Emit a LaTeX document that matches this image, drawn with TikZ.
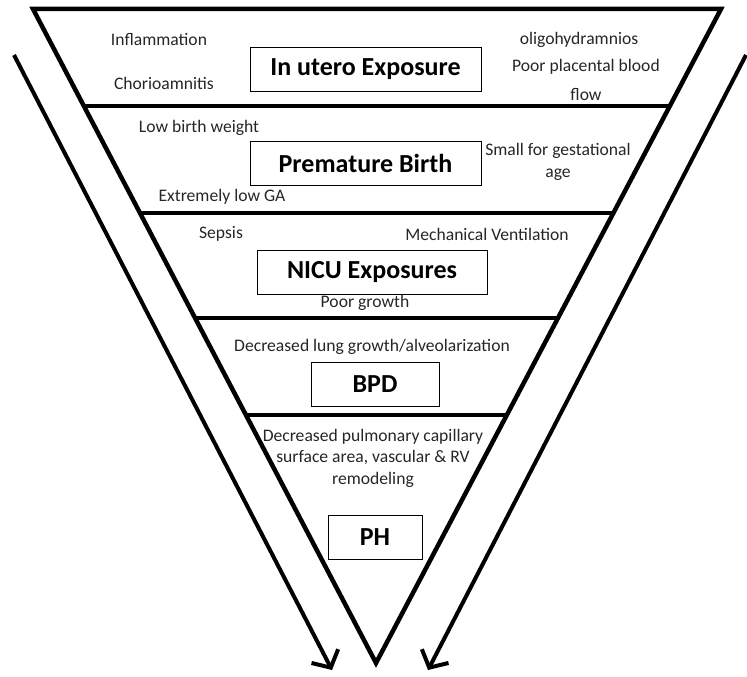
\documentclass[tikz,border=0pt]{standalone}
\usepackage{fontspec}
\setmainfont{Carlito}
\usetikzlibrary{arrows.meta}

\tikzset{
    stage/.style={draw, line width=0.8pt, inner sep=0pt, minimum height=44pt,
        font=\fontsize{26}{30}\selectfont\bfseries},
    factor/.style={inner sep=0pt, align=center, text=black!85,
        font=\fontsize{17.6}{21.5}\selectfont},
    wall/.style={line width=4.5pt, line join=miter},
    layer/.style={line width=4pt},
    flow/.style={line width=4pt, -{Straight Barb[length=13pt,width=30pt,line width=4pt]}}
}

\begin{document}
\begin{tikzpicture}[x=1pt, y=-1pt]
    \useasboundingbox (0,0) rectangle (747,677);
    % funnel corners
    \coordinate (tl) at (33,9);
    \coordinate (tr) at (721,9);
    \coordinate (ap) at (376,663);
    % layer borders
    \coordinate (l1) at (84,106);   \coordinate (r1) at (670,106);
    \coordinate (l2) at (140,213);  \coordinate (r2) at (613,213);
    \coordinate (l3) at (195,318);  \coordinate (r3) at (558,318);
    \coordinate (l4) at (246,415);  \coordinate (r4) at (507,415);
    % side arrows
    \coordinate (as) at (14,55);
    \coordinate (ae) at (332,670);
    \coordinate (bs) at (746,55);
    \coordinate (be) at (428,670);
    % stages
    \node[stage, minimum width=231pt](utero) at (365.5,69) {In utero Exposure};
    \node[stage, minimum width=231pt](birth) at (365.5,163) {Premature Birth};
    \node[stage, minimum width=230pt](nicu) at (372,272.5) {NICU Exposures};
    \node[stage, minimum width=128pt](bpd) at (375,384.5) {BPD};
    \node[stage, minimum width=94pt](ph) at (375,537.5) {PH};
    % factors
    \node[factor](infl) at (159,39) {Inflammation};
    \node[factor](chorio) at (164,83) {Chorioamnitis};
    \node[factor](oligo) at (579,40) {oligohydramnios};
    \node[factor](flow) at (586,80) {Poor placental blood\\[8pt]flow};
    \node[factor](lbw) at (199,128) {Low birth weight};
    \node[factor](elga) at (222,197) {Extremely low GA};
    \node[factor](sga) at (558,162) {Small for gestational\\age};
    \node[factor](sepsis) at (221,234) {Sepsis};
    \node[factor](mv) at (487,234) {Mechanical Ventilation};
    \node[factor](growth) at (365,303) {Poor growth};
    \node[factor](lung) at (372,347) {Decreased lung growth/alveolarization};
    \node[factor](pulm) at (373,458) {Decreased pulmonary capillary\\surface area, vascular \& RV\\remodeling};
    % funnel
    \draw[wall] (tl) -- (tr) -- (ap) -- cycle;
    \path[layer]
        (l1) edge (r1)
        (l2) edge (r2)
        (l3) edge (r3)
        (l4) edge (r4);
    \draw[flow] (as) -- (ae);
    \draw[flow] (bs) -- (be);
\end{tikzpicture}
\end{document}
